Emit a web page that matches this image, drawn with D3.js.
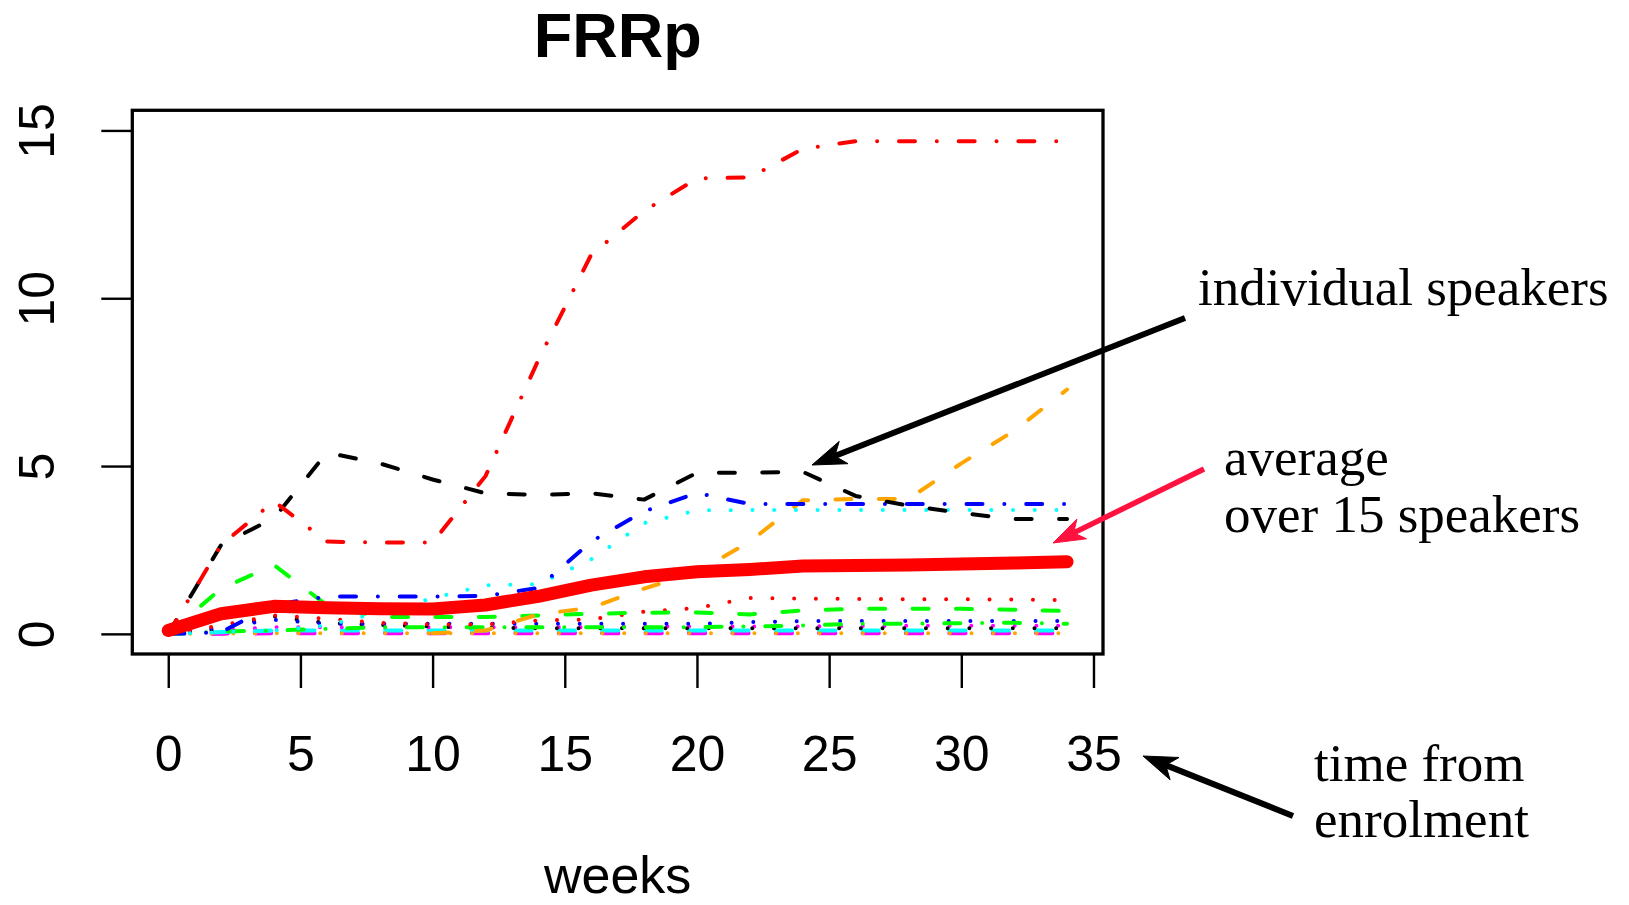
<!DOCTYPE html>
<html>
<head>
<meta charset="utf-8">
<script src="https://cdn.jsdelivr.net/npm/d3@7"></script>
<style>
  html, body { margin: 0; padding: 0; background: #fff; }
  svg { display: block; }
</style>
</head>
<body>
<script>
// Measurement weeks since enrolment
const weeks = [0, 2, 4, 6, 8, 10, 12, 14, 16, 18, 20, 22, 24, 26, 28, 30, 32, 34];

// Per-speaker FRRp curves
const spkBlackFlat      = [0, 0.01, 0.02, 0.02, 0.02, 0.02, 0.02, 0.02, 0.02, 0.02, 0.02, 0.02, 0.02, 0.02, 0.02, 0.02, 0.02, 0.02];
const spkMagentaDashed  = [0, 0.01, 0.02, 0.02, 0.02, 0.02, 0.02, 0.02, 0.02, 0.02, 0.02, 0.02, 0.02, 0.02, 0.02, 0.02, 0.02, 0.02];
const spkCyanDashed     = [0, 0.05, 0.1, 0.1, 0.1, 0.1, 0.1, 0.1, 0.1, 0.1, 0.1, 0.1, 0.1, 0.1, 0.1, 0.1, 0.1, 0.1];
const spkOrangeDotted   = [0, 0.01, 0.02, 0.02, 0.02, 0.02, 0.02, 0.02, 0.02, 0.02, 0.02, 0.02, 0.02, 0.02, 0.02, 0.02, 0.02, 0.02];
const spkMagentaDotted  = [0, 0.1, 0.2, 0.2, 0.2, 0.2, 0.2, 0.2, 0.2, 0.22, 0.22, 0.22, 0.22, 0.23, 0.24, 0.24, 0.24, 0.24];
const spkBlackDotted    = [0, 0.15, 0.52, 0.32, 0.27, 0.22, 0.18, 0.17, 0.17, 0.17, 0.17, 0.17, 0.17, 0.17, 0.17, 0.17, 0.17, 0.17];
const spkBlueDotted     = [0, 0.2, 0.42, 0.3, 0.3, 0.3, 0.3, 0.3, 0.3, 0.3, 0.3, 0.35, 0.38, 0.38, 0.38, 0.38, 0.38, 0.38];
const spkGreenDotdash   = [0, 0.07, 0.1, 0.15, 0.2, 0.2, 0.2, 0.2, 0.2, 0.2, 0.2, 0.22, 0.25, 0.3, 0.3, 0.32, 0.33, 0.3];
const spkRedDotted      = [0, 0.25, 0.55, 0.45, 0.33, 0.28, 0.28, 0.4, 0.43, 0.66, 0.77, 1.07, 1.05, 1.04, 1.03, 1.03, 1.02, 1.01];
const spkGreenDashed    = [0, 1.35, 2.05, 0.85, 0.5, 0.5, 0.5, 0.55, 0.6, 0.63, 0.64, 0.58, 0.7, 0.75, 0.75, 0.75, 0.72, 0.68];
const spkOrangeDashed   = [null, null, null, null, null, 0.02, 0.1, 0.58, 0.78, 1.35, 1.84, 2.75, 3.98, 4.02, 4.02, 5.08, 6.05, 7.28];
const spkCyanDotted     = [0, 0.05, 0.1, 0.25, 0.65, 1.06, 1.45, 1.48, 2.22, 3.3, 3.68, 3.69, 3.69, 3.69, 3.69, 3.69, 3.69, 3.69];
const spkBlueDotdash    = [0, 0.05, 0.87, 1.11, 1.11, 1.11, 1.13, 1.37, 2.75, 3.65, 4.2, 3.87, 3.87, 3.87, 3.87, 3.87, 3.87, 3.87];
const spkBlackDashed    = [0, 2.65, 3.45, 5.4, 5.08, 4.6, 4.19, 4.14, 4.19, 4.0, 4.8, 4.8, 4.83, 4.11, 3.82, 3.6, 3.42, 3.42];
const spkRedDotdash     = [0, 2.65, 3.95, 2.75, 2.72, 2.72, 4.7, 8.16, 11.3, 12.6, 13.57, 13.6, 14.45, 14.68, 14.68, 14.68, 14.68, 14.68];

// Mean over the 15 speakers
const average = [0.1, 0.6, 0.82, 0.78, 0.75, 0.74, 0.86, 1.12, 1.45, 1.7, 1.85, 1.92, 2.02, 2.04, 2.05, 2.08, 2.11, 2.15];

// Tick labels
const xTickValues = [0, 5, 10, 15, 20, 25, 30, 35];
const yTickValues = [0, 5, 10, 15];

// Drawing order (first drawn sits underneath)
const speakerSeries = [
  spkBlackFlat, spkMagentaDashed, spkCyanDashed, spkOrangeDotted, spkMagentaDotted,
  spkBlackDotted, spkBlueDotted, spkGreenDotdash, spkRedDotted, spkGreenDashed,
  spkOrangeDashed, spkCyanDotted, spkBlueDotdash, spkBlackDashed, spkRedDotdash
];
const speakerColors = [
  "#000000", "#ff00ff", "#00ffff", "#ffa500", "#ff00ff",
  "#000000", "#0000ff", "#00ff00", "#ff0000", "#00ff00",
  "#ffa500", "#00ffff", "#0000ff", "#000000", "#ff0000"
];
const speakerLty = [
  "dashed", "dashed", "dashed", "dotted", "dotted",
  "dotted", "dotted", "dotdash", "dotted", "dashed",
  "dashed", "dotted", "dotdash", "dashed", "dotdash"
];
const speakerWidth = [
  3.2, 4.2, 4.2, 4, 4,
  4, 4, 4, 4, 4,
  4, 4, 4, 4, 4
];

const dashPatterns = {
  dashed:  "16,27.4",
  dotted:  "0.01,21.7",
  dotdash: "16,21.85,0.01,21.85"
};

const W = 1629, H = 905;
const svg = d3.select("body").append("svg")
  .attr("width", W).attr("height", H)
  .attr("viewBox", `0 0 ${W} ${H}`);

const box = { left: 132.3, right: 1103, top: 110.3, bottom: 654 };

const x = d3.scaleLinear().domain([-1.36, 35.36]).range([box.left, box.right]);
const y = d3.scaleLinear().domain([-0.6, 15.6]).range([box.bottom, box.top]);

const sans = "'Liberation Sans', Arial, Helvetica, sans-serif";
const serif = "'Liberation Serif', 'Times New Roman', serif";

// Title
svg.append("text")
  .attr("x", (box.left + box.right) / 2)
  .attr("y", 57)
  .attr("text-anchor", "middle")
  .style("font-family", sans)
  .style("font-weight", "bold")
  .style("font-size", "63px")
  .text("FRRp");

// Clip lines to the plotting box
svg.append("defs").append("clipPath").attr("id", "plotclip")
  .append("rect")
  .attr("x", box.left).attr("y", box.top)
  .attr("width", box.right - box.left).attr("height", box.bottom - box.top);

const line = d3.line()
  .defined(d => d != null)
  .x((d, i) => x(weeks[i]))
  .y(d => y(d));

const linesG = svg.append("g").attr("clip-path", "url(#plotclip)");

speakerSeries.forEach((vals, k) => {
  linesG.append("path")
    .datum(vals)
    .attr("d", line)
    .attr("fill", "none")
    .attr("stroke", speakerColors[k])
    .attr("stroke-width", speakerWidth[k])
    .attr("stroke-linecap", "round")
    .attr("stroke-linejoin", "round")
    .attr("stroke-dasharray", dashPatterns[speakerLty[k]]);
});

// Average curve
linesG.append("path")
  .datum(average)
  .attr("d", line)
  .attr("fill", "none")
  .attr("stroke", "#ff0000")
  .attr("stroke-width", 13)
  .attr("stroke-linecap", "round")
  .attr("stroke-linejoin", "round");

// Plot frame
svg.append("rect")
  .attr("x", box.left).attr("y", box.top)
  .attr("width", box.right - box.left).attr("height", box.bottom - box.top)
  .attr("fill", "none")
  .attr("stroke", "#000")
  .attr("stroke-width", 3.3);

// X axis
const xAxis = svg.append("g")
  .attr("transform", `translate(0,${box.bottom})`)
  .call(d3.axisBottom(x).tickValues(xTickValues).tickSize(34).tickSizeOuter(0).tickFormat(d3.format("d")));
xAxis.select(".domain").remove();
xAxis.selectAll(".tick line").attr("stroke", "#000").attr("stroke-width", 2.4);
xAxis.selectAll(".tick text")
  .attr("y", 117).attr("dy", 0)
  .attr("fill", "#000")
  .style("font-family", sans)
  .style("font-size", "50px");

// Y axis
const yAxis = svg.append("g")
  .attr("transform", `translate(${box.left},0)`)
  .call(d3.axisLeft(y).tickValues(yTickValues).tickSize(31).tickSizeOuter(0).tickFormat(d3.format("d")));
yAxis.select(".domain").remove();
yAxis.selectAll(".tick line").attr("stroke", "#000").attr("stroke-width", 2.4);
yAxis.selectAll(".tick text")
  .attr("x", 0).attr("dy", 0)
  .attr("text-anchor", "middle")
  .attr("transform", `translate(${54 - box.left},0) rotate(-90)`)
  .attr("fill", "#000")
  .style("font-family", sans)
  .style("font-size", "50px");

// X axis title
svg.append("text")
  .attr("x", (box.left + box.right) / 2)
  .attr("y", 893)
  .attr("text-anchor", "middle")
  .style("font-family", sans)
  .style("font-size", "52px")
  .text("weeks");

// Annotations
function arrow(x1, y1, x2, y2, color, width, headLen, headHalf) {
  const ang = Math.atan2(y2 - y1, x2 - x1);
  const ux = Math.cos(ang), uy = Math.sin(ang);
  const px = -uy, py = ux;
  const bx = x2 - ux * headLen, by = y2 - uy * headLen;
  const nx = x2 - ux * headLen * 0.72, ny = y2 - uy * headLen * 0.72;
  svg.append("line")
    .attr("x1", x1).attr("y1", y1).attr("x2", nx).attr("y2", ny)
    .attr("stroke", color).attr("stroke-width", width);
  svg.append("path")
    .attr("d", `M${x2},${y2} L${bx + px * headHalf},${by + py * headHalf} L${nx},${ny} L${bx - px * headHalf},${by - py * headHalf} Z`)
    .attr("fill", color)
    .attr("stroke", color)
    .attr("stroke-width", 1)
    .attr("stroke-linejoin", "miter");
}

arrow(1185, 318, 812, 465, "#000000", 6, 34, 12);
arrow(1204, 469, 1053, 543, "#ff1240", 5.5, 32, 11);
arrow(1293, 816, 1143, 756, "#000000", 6, 34, 12);

const annot = svg.append("g")
  .style("font-family", serif)
  .style("font-size", "53px")
  .attr("fill", "#000");
annot.append("text").attr("x", 1198).attr("y", 305).text("individual speakers");
annot.append("text").attr("x", 1224).attr("y", 475).text("average");
annot.append("text").attr("x", 1224).attr("y", 532).text("over 15 speakers");
annot.append("text").attr("x", 1314).attr("y", 781).text("time from");
annot.append("text").attr("x", 1314).attr("y", 837).text("enrolment");
</script>
</body>
</html>
